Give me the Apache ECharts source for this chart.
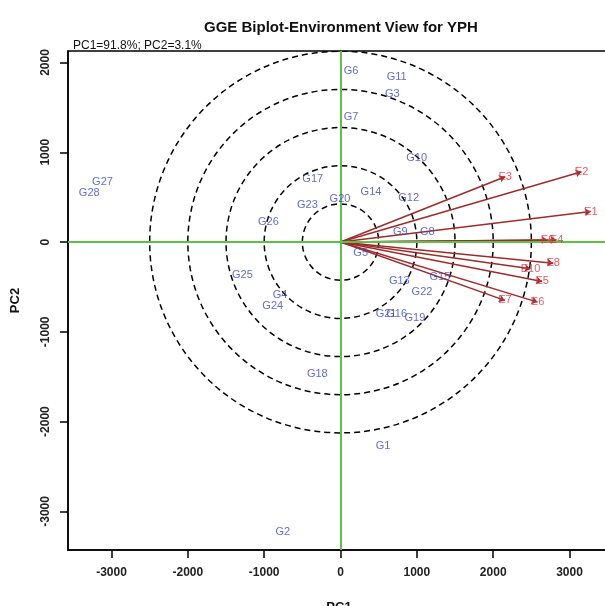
<!DOCTYPE html>
<html><head><meta charset="utf-8">
<script src="https://cdn.jsdelivr.net/npm/echarts@6/dist/echarts.min.js"></script>
<style>html,body{margin:0;padding:0;background:#fff}#c{width:605px;height:606px}</style>
</head><body><div id="c"></div>
<script>
const xTicks = [-3000, -2000, -1000, 0, 1000, 2000, 3000];
const yTicks = [-3000, -2000, -1000, 0, 1000, 2000];
const radii = [500, 1000, 1500, 2000, 2500];

const genotypes = ['G1','G2','G3','G4','G5','G6','G7','G8','G9','G10','G11','G12','G13','G14','G15','G16','G17','G18','G19','G20','G21','G22','G23','G24','G25','G26','G27','G28'];
const genoX = [556, -755, 678, -792, 264, 137, 137, 1136, 783, 997, 735, 892, 770, 399, 1302, 735, -364, -304, 975, -7, 596, 1067, -434, -888, -1285, -945, -3118, -3292];
const genoY = [-2272, -3228, 1647, -591, -121, 1906, 1394, 109, 109, 935, 1839, 494, -428, 561, -394, -798, 702, -1472, -846, 480, -798, -558, 417, -709, -369, 228, 664, 546];

const envs = ['E1','E2','E3','E4','E5','E6','E7','E8','E9','E10'];
const envX = [3279, 3157, 2157, 2830, 2641, 2581, 2153, 2785, 2712, 2489];
const envY = [339, 783, 728, 24, -439, -669, -650, -235, 24, -298];

const chart = echarts.init(document.getElementById('c'));
const FONT = 'Liberation Sans';

const genoData = genotypes.map((g, i) => [genoX[i], genoY[i], g]);
const envData = envs.map((e, i) => [envX[i], envY[i], e]);
const envLines = envs.map((e, i) => ({coords: [[0, 0], [envX[i], envY[i]]]}));

chart.setOption({
  animation: false,
  title: [
    {text: 'GGE Biplot-Environment View for YPH', left: 199, top: 15,
     textStyle: {fontFamily: FONT, fontSize: 15, fontWeight: 'bold', color: '#111'}},
    {text: 'PC1=91.8%; PC2=3.1%', left: 68, top: 35,
     textStyle: {fontFamily: FONT, fontSize: 12, fontWeight: 'normal', color: '#111'}}
  ],
  grid: {left: 68, right: -5, top: 51, bottom: 56, show: true, borderColor: '#000', borderWidth: 1.5,
         containLabel: false, outerBoundsMode: 'none'},
  xAxis: {
    type: 'value', min: -3570, max: 3530,
    name: 'PC1', nameLocation: 'middle', nameGap: 51,
    nameTextStyle: {fontFamily: FONT, fontSize: 13, fontWeight: 'bold', color: '#111'},
    axisLine: {show: true, onZero: false, lineStyle: {color: '#000', width: 1.5}},
    axisTick: {show: true, length: 8, inside: false, customValues: xTicks, lineStyle: {color: '#000', width: 1.5}},
    axisLabel: {customValues: xTicks, margin: 17, formatter: v => String(v),
      fontFamily: FONT, fontSize: 12, fontWeight: 'bold', color: '#222'},
    splitLine: {show: false}
  },
  yAxis: {
    type: 'value', min: -3430, max: 2128,
    name: 'PC2', nameLocation: 'middle', nameGap: 46,
    nameTextStyle: {fontFamily: FONT, fontSize: 13, fontWeight: 'bold', color: '#111'},
    axisLine: {show: true, onZero: false, lineStyle: {color: '#000', width: 1.5}},
    axisTick: {show: true, length: 8, inside: false, customValues: yTicks, lineStyle: {color: '#000', width: 1.5}},
    axisLabel: {customValues: yTicks, rotate: 90, margin: 16, formatter: v => String(v),
      fontFamily: FONT, fontSize: 12, fontWeight: 'bold', color: '#222'},
    splitLine: {show: false}
  },
  series: [
    {
      type: 'custom', clip: true, z: 2,
      data: radii.map(r => [r]),
      renderItem: function (params, api) {
        const c = api.coord([0, 0]);
        const r = api.size([api.value(0), 0])[0];
        return {type: 'circle', shape: {cx: c[0], cy: c[1], r: r},
          style: {fill: null, stroke: '#000', lineWidth: 1.5, lineDash: [6, 4]}};
      }
    },
    {
      type: 'line', data: [], z: 3,
      markLine: {
        silent: true, symbol: 'none', label: {show: false},
        lineStyle: {color: '#5cc247', width: 2, type: 'solid'},
        data: [{xAxis: 0}, {yAxis: 0}]
      }
    },
    {
      type: 'lines', coordinateSystem: 'cartesian2d', z: 4,
      data: envLines,
      symbol: ['none', 'arrow'], symbolSize: 6,
      lineStyle: {color: '#9b2d2d', width: 1.5, opacity: 1}
    },
    {
      type: 'scatter', z: 5, data: envData, symbolSize: 1,
      itemStyle: {color: 'transparent'},
      label: {show: true, position: 'inside', formatter: p => p.data[2],
        fontFamily: FONT, fontSize: 11, color: '#e0303a'}
    },
    {
      type: 'scatter', z: 5, data: genoData, symbolSize: 1,
      itemStyle: {color: 'transparent'},
      label: {show: true, position: 'inside', formatter: p => p.data[2],
        fontFamily: FONT, fontSize: 11, color: '#3a46c8'}
    }
  ]
});
</script></body></html>
